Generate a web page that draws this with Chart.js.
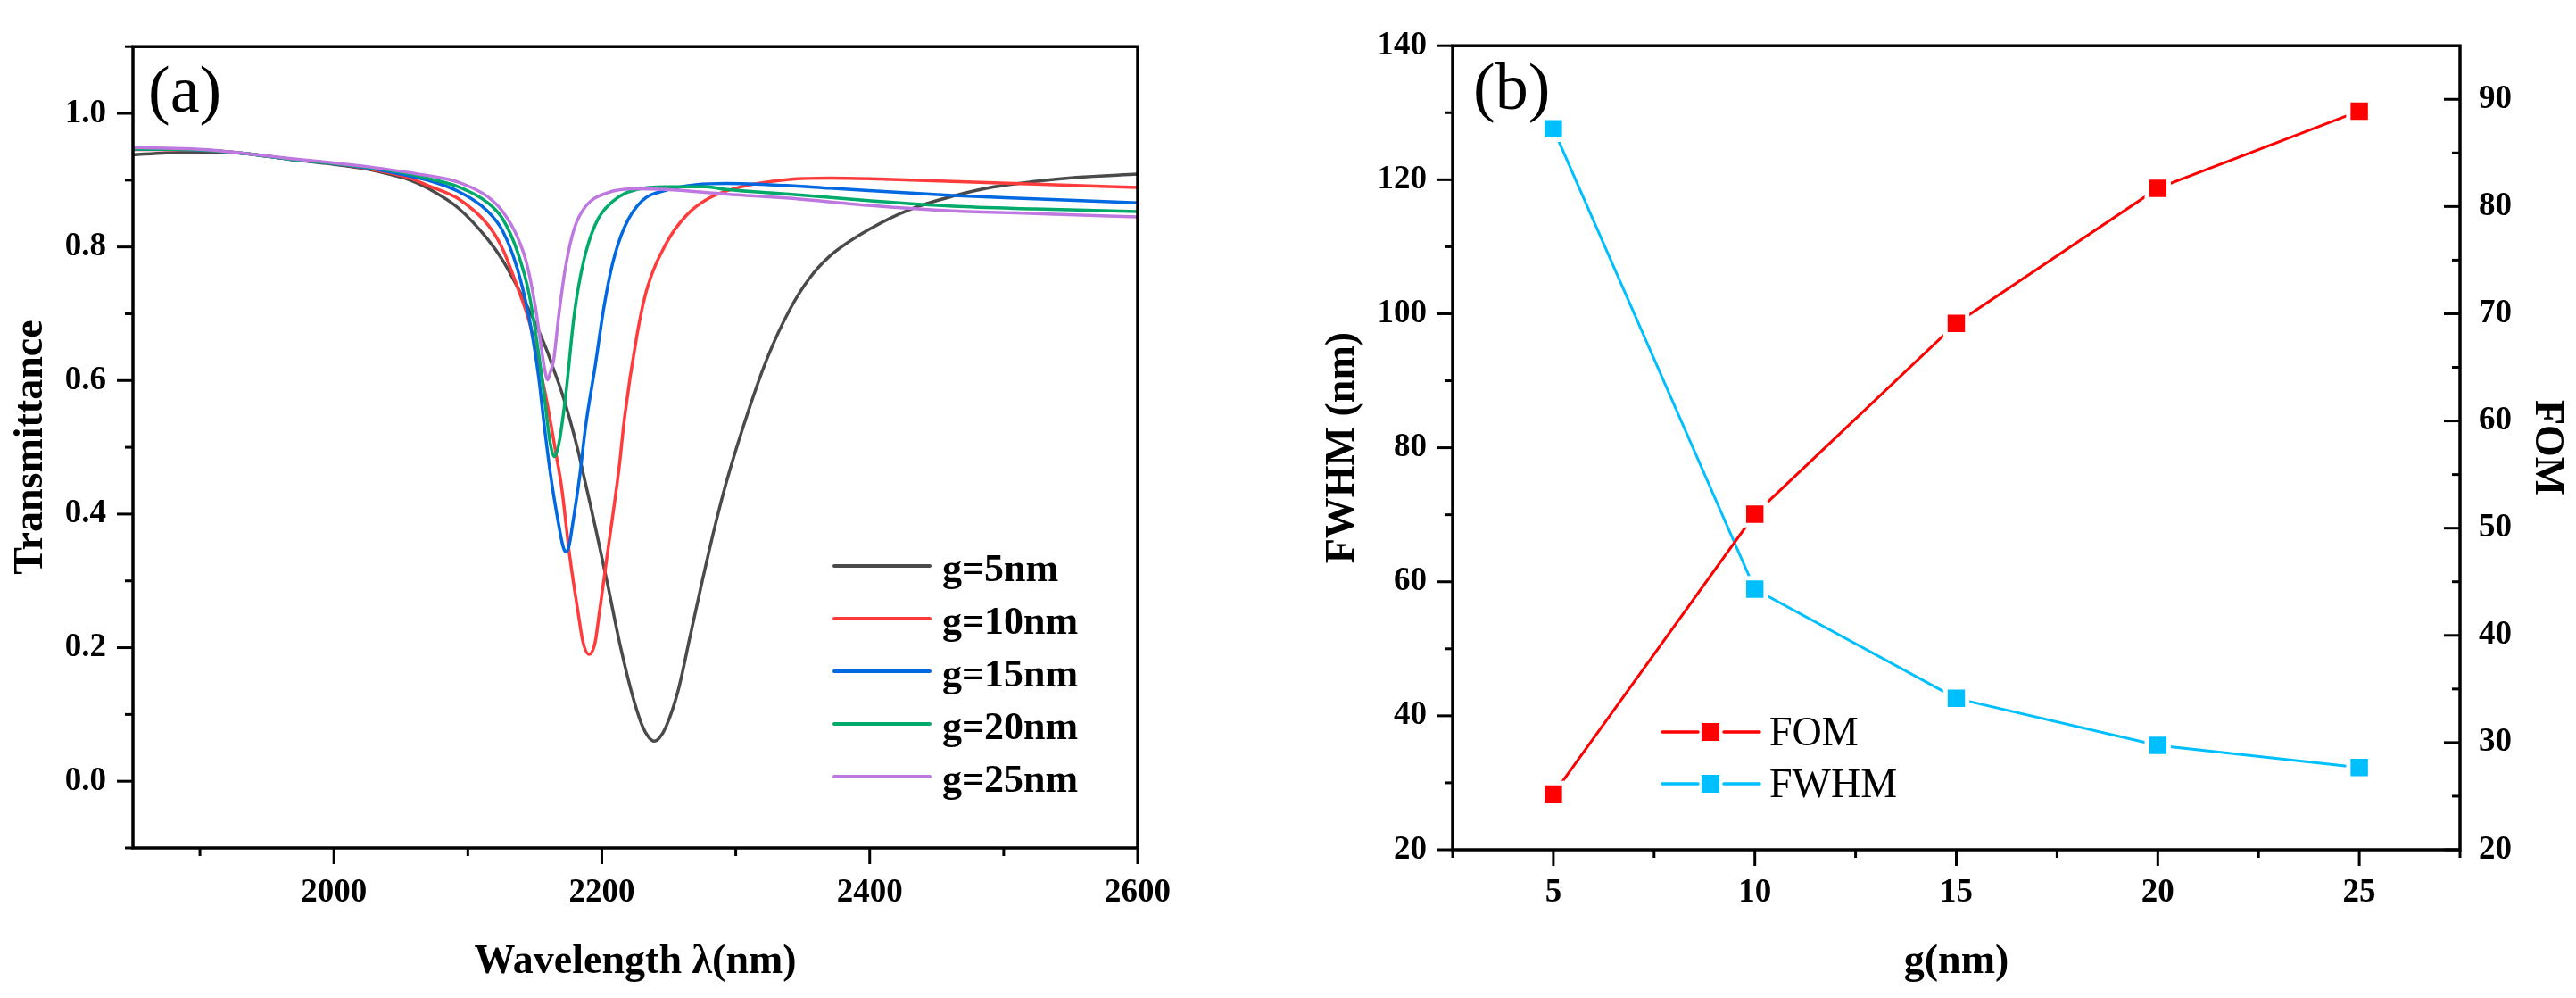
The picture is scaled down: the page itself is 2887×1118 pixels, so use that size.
<!DOCTYPE html>
<html>
<head>
<meta charset="utf-8">
<title>Transmittance and FOM / FWHM</title>
<script src="https://cdn.jsdelivr.net/npm/chart.js@4.4.1/dist/chart.umd.min.js"></script>
<style>
  html, body { margin: 0; padding: 0; background: #fff; }
  body { width: 2887px; height: 1118px; position: relative; overflow: hidden; }
  canvas { position: absolute; top: 0; }
  #chartA { left: 0; }
  #chartB { left: 1440px; }
</style>
</head>
<body>
<canvas id="chartA" width="1400" height="1118"></canvas>
<canvas id="chartB" width="1447" height="1118"></canvas>
<script>
// ---- panel (a): transmittance spectra ----
const wl5 = [1850, 1875, 1903, 1934, 1965, 1995, 2026, 2045, 2057, 2070, 2093, 2115, 2126, 2137, 2148, 2159, 2164, 2170, 2176, 2182, 2187, 2191, 2195, 2204, 2213, 2222, 2230, 2235, 2239, 2243, 2248, 2257, 2266, 2275, 2284, 2293, 2309, 2324, 2340, 2355, 2370, 2401, 2431, 2462, 2493, 2523, 2554, 2600];
const t5 = [0.938, 0.941, 0.942, 0.940, 0.932, 0.925, 0.916, 0.907, 0.900, 0.888, 0.858, 0.811, 0.780, 0.740, 0.696, 0.645, 0.617, 0.583, 0.543, 0.497, 0.453, 0.418, 0.382, 0.298, 0.210, 0.135, 0.084, 0.066, 0.060, 0.065, 0.082, 0.136, 0.218, 0.300, 0.378, 0.448, 0.552, 0.636, 0.705, 0.753, 0.786, 0.828, 0.857, 0.876, 0.890, 0.898, 0.904, 0.909];

const wl10 = [1850, 1903, 1934, 1965, 1995, 2026, 2057, 2070, 2093, 2115, 2126, 2137, 2146, 2153, 2159, 2166, 2170, 2176, 2182.5, 2186, 2190.5, 2195, 2198, 2204, 2213, 2217, 2226, 2233, 2248, 2263, 2280, 2304, 2340, 2370, 2401, 2462, 2523, 2600];
const t10 = [0.946, 0.945, 0.940, 0.932, 0.926, 0.917, 0.903, 0.892, 0.872, 0.833, 0.797, 0.740, 0.687, 0.625, 0.568, 0.488, 0.440, 0.338, 0.250, 0.208, 0.190, 0.208, 0.250, 0.338, 0.471, 0.545, 0.665, 0.732, 0.805, 0.847, 0.873, 0.890, 0.901, 0.903, 0.902, 0.898, 0.894, 0.889];

const wl15 = [1850, 1903, 1934, 1965, 1995, 2026, 2057, 2070, 2093, 2115, 2126, 2137, 2146, 2153, 2157, 2162, 2168, 2171, 2173, 2175.5, 2178, 2183.5, 2188, 2195, 2201.5, 2208, 2217, 2230, 2248, 2270, 2293, 2337, 2370, 2462, 2523, 2600];
const t15 = [0.947, 0.945, 0.940, 0.932, 0.926, 0.918, 0.906, 0.900, 0.883, 0.853, 0.824, 0.767, 0.691, 0.603, 0.533, 0.455, 0.382, 0.352, 0.343, 0.352, 0.382, 0.457, 0.533, 0.621, 0.709, 0.775, 0.830, 0.869, 0.885, 0.893, 0.895, 0.892, 0.888, 0.877, 0.872, 0.866];

const wl20 = [1850, 1903, 1934, 1965, 1995, 2026, 2057, 2070, 2093, 2115, 2126, 2137, 2146, 2153, 2157, 2161.5, 2164.5, 2168, 2173, 2179.5, 2186, 2195, 2208, 2226, 2248, 2278, 2293, 2340, 2401, 2462, 2523, 2600];
const t20 = [0.947, 0.945, 0.940, 0.932, 0.926, 0.919, 0.909, 0.903, 0.890, 0.866, 0.842, 0.793, 0.727, 0.638, 0.577, 0.506, 0.486, 0.506, 0.577, 0.700, 0.775, 0.833, 0.868, 0.886, 0.890, 0.890, 0.886, 0.879, 0.869, 0.861, 0.857, 0.853];

const wl25 = [1850, 1875, 1903, 1934, 1965, 1995, 2026, 2057, 2070, 2093, 2115, 2126, 2137, 2144, 2150.5, 2155, 2157.5, 2159.5, 2161.5, 2164, 2168, 2173, 2179.5, 2188, 2204, 2226, 2248, 2293, 2340, 2401, 2462, 2523, 2600];
const t25 = [0.949, 0.948, 0.946, 0.940, 0.933, 0.927, 0.920, 0.911, 0.907, 0.897, 0.875, 0.853, 0.815, 0.775, 0.709, 0.647, 0.615, 0.601, 0.612, 0.630, 0.700, 0.771, 0.828, 0.861, 0.881, 0.887, 0.886, 0.879, 0.873, 0.862, 0.854, 0.850, 0.845];

const labelsA = ['g=5nm', 'g=10nm', 'g=15nm', 'g=20nm', 'g=25nm'];
const xTicksA = [2000, 2200, 2400, 2600];
const xMinorA = [1900, 2100, 2300, 2500];
const yTicksA = [0, 0.2, 0.4, 0.6, 0.8, 1.0];
const yMinorA = [-0.1, 0.1, 0.3, 0.5, 0.7, 0.9, 1.1];

// ---- panel (b): FOM and FWHM against gap ----
const gaps = [5, 10, 15, 20, 25];
const fom = [25.2, 51.3, 69.1, 81.7, 88.9];
const fwhm = [127.6, 58.9, 42.6, 35.6, 32.3];
const xTicksB = [5, 10, 15, 20, 25];
const xMinorB = [2.5, 7.5, 12.5, 17.5, 22.5, 27.5];
const yTicksB = [20, 40, 60, 80, 100, 120, 140];
const yMinorB = [30, 50, 70, 90, 110, 130];
const y1TicksB = [20, 30, 40, 50, 60, 70, 80, 90];
const y1MinorB = [25, 35, 45, 55, 65, 75, 85];

const colorsA = ['#4a4a4a', '#ff3b3b', '#0068e0', '#00aa6a', '#be78e0'];
const serif = "'Liberation Serif', 'Times New Roman', serif";
const tickFont = { family: serif, size: 37, weight: 'bold' };
const titleFont = { family: serif, size: 46, weight: 'bold' };

Chart.defaults.font.family = serif;
Chart.defaults.color = '#000';

const toPoints = (xs, ys) => xs.map((x, i) => ({ x: x, y: ys[i] }));
const tickList = vals => s => { s.ticks = vals.map(v => ({ value: v })); };

// frame box plus major/minor tick marks
const axisDecor = {
  id: 'axisDecor',
  afterDraw(chart, args, o) {
    const { ctx, chartArea: a } = chart;
    ctx.save();
    ctx.strokeStyle = '#000';
    ctx.lineCap = 'butt';
    ctx.lineWidth = 3;
    o.ticks.forEach(t => {
      const scale = chart.scales[t.id];
      [[t.major, 18], [t.minor, 9]].forEach(([vals, len]) => {
        vals.forEach(v => {
          const p = scale.getPixelForValue(v);
          ctx.beginPath();
          if (scale.isHorizontal()) {
            ctx.moveTo(p, a.bottom);
            ctx.lineTo(p, a.bottom + len * t.dir);
          } else {
            const x0 = t.side === 'right' ? a.right : a.left;
            ctx.moveTo(x0, p);
            ctx.lineTo(x0 + len * t.dir, p);
          }
          ctx.stroke();
        });
      });
    });
    ctx.lineWidth = 3.5;
    ctx.strokeRect(a.left, a.top, a.right - a.left, a.bottom - a.top);
    // panel letter
    ctx.fillStyle = '#000';
    ctx.font = '74px ' + serif;
    ctx.textBaseline = 'alphabetic';
    ctx.fillText(o.tag, o.tagX, o.tagY);
    ctx.restore();
  }
};

// legend drawn inside the plot, taken from the datasets
const innerLegend = {
  id: 'innerLegend',
  afterDraw(chart, args, o) {
    const ctx = chart.ctx;
    ctx.save();
    ctx.font = o.font;
    ctx.textBaseline = 'alphabetic';
    chart.data.datasets.forEach((ds, i) => {
      const y = o.top + i * o.gap;
      ctx.strokeStyle = ds.borderColor;
      ctx.lineWidth = o.lineWidth;
      ctx.lineCap = 'round';
      ctx.beginPath();
      if (o.marker) {
        ctx.moveTo(o.x0, y); ctx.lineTo(o.mx - 14, y);
        ctx.moveTo(o.mx + 15, y); ctx.lineTo(o.x1, y);
        ctx.stroke();
        ctx.fillStyle = ds.pointBackgroundColor;
        ctx.fillRect(o.mx - 10, y - 10, 20, 20);
      } else {
        ctx.moveTo(o.x0, y); ctx.lineTo(o.x1, y);
        ctx.stroke();
      }
      ctx.fillStyle = '#000';
      ctx.fillText(ds.label, o.textX, y + o.shift);
    });
    ctx.restore();
  }
};

const seriesA = [[wl5, t5], [wl10, t10], [wl15, t15], [wl20, t20], [wl25, t25]];

new Chart(document.getElementById('chartA'), {
  type: 'line',
  data: {
    datasets: seriesA.map((s, i) => ({
      label: labelsA[i],
      data: toPoints(s[0], s[1]),
      borderColor: colorsA[i],
      backgroundColor: colorsA[i],
      borderWidth: 3.5,
      pointRadius: 0,
      fill: false,
      cubicInterpolationMode: 'monotone',
      order: 5 - i
    }))
  },
  options: {
    responsive: false,
    devicePixelRatio: 1,
    animation: false,
    events: [],
    layout: { autoPadding: false, padding: { top: 45, right: 125, left: 0, bottom: 0 } },
    plugins: {
      legend: { display: false },
      tooltip: { enabled: false },
      axisDecor: {
        tag: '(a)', tagX: 166, tagY: 125,
        ticks: [
          { id: 'x', major: xTicksA, minor: xMinorA, dir: 1 },
          { id: 'y', major: yTicksA, minor: yMinorA, dir: -1, side: 'left' }
        ]
      },
      innerLegend: {
        font: 'bold 44px ' + serif,
        top: 634, gap: 59, x0: 935, x1: 1042, textX: 1056, shift: 17, lineWidth: 4
      }
    },
    scales: {
      x: {
        type: 'linear', min: 1850, max: 2600,
        grid: { display: false, drawTicks: false },
        border: { display: false },
        afterBuildTicks: tickList(xTicksA),
        afterFit: s => { s.height = 168; },
        ticks: { font: tickFont, color: '#000', padding: 28, maxRotation: 0, autoSkip: false, callback: v => String(v) },
        title: { display: true, text: 'Wavelength λ(nm)', font: titleFont, color: '#000', padding: { top: 0, bottom: 12 } }
      },
      y: {
        type: 'linear', min: -0.1, max: 1.1,
        grid: { display: false, drawTicks: false },
        border: { display: false },
        afterBuildTicks: tickList(yTicksA),
        afterFit: s => { s.width = 149; },
        ticks: { font: tickFont, color: '#000', padding: 30, autoSkip: false, callback: v => v.toFixed(1) },
        title: { display: true, text: 'Transmittance', font: titleFont, color: '#000', padding: { top: 8, bottom: 0 } }
      }
    }
  },
  plugins: [axisDecor, innerLegend]
});

new Chart(document.getElementById('chartB'), {
  type: 'line',
  data: {
    datasets: [
      {
        label: 'FOM',
        data: toPoints(gaps, fom),
        yAxisID: 'y1',
        borderColor: '#ff0000',
        pointBackgroundColor: '#ff0000',
        pointBorderColor: '#ffffff',
        pointBorderWidth: 5,
        pointStyle: 'rect',
        pointRadius: 17.3,
        borderWidth: 3,
        tension: 0,
        fill: false
      },
      {
        label: 'FWHM',
        data: toPoints(gaps, fwhm),
        yAxisID: 'y',
        borderColor: '#00bfff',
        pointBackgroundColor: '#00bfff',
        pointBorderColor: '#ffffff',
        pointBorderWidth: 5,
        pointStyle: 'rect',
        pointRadius: 17.3,
        borderWidth: 3,
        tension: 0,
        fill: false
      }
    ]
  },
  options: {
    responsive: false,
    devicePixelRatio: 1,
    animation: false,
    events: [],
    layout: { autoPadding: false, padding: { top: 42, right: 0, left: 0, bottom: 0 } },
    plugins: {
      legend: { display: false },
      tooltip: { enabled: false },
      axisDecor: {
        tag: '(b)', tagX: 211, tagY: 122,
        ticks: [
          { id: 'x', major: xTicksB, minor: xMinorB, dir: 1 },
          { id: 'y', major: yTicksB, minor: yMinorB, dir: -1, side: 'left' },
          { id: 'y1', major: y1TicksB, minor: y1MinorB, dir: -1, side: 'right' }
        ]
      },
      innerLegend: {
        font: '46px ' + serif, marker: true,
        top: 820, gap: 58, x0: 423, x1: 532, mx: 477, textX: 543, shift: 15, lineWidth: 3.5
      }
    },
    scales: {
      x: {
        type: 'linear', min: 2.5, max: 27.5,
        grid: { display: false, drawTicks: false },
        border: { display: false },
        afterBuildTicks: tickList(xTicksB),
        afterFit: s => { s.height = 166; },
        ticks: { font: tickFont, color: '#000', padding: 26, maxRotation: 0, autoSkip: false, callback: v => String(v) },
        title: { display: true, text: 'g(nm)', font: titleFont, color: '#000', padding: { top: 0, bottom: 12 } }
      },
      y: {
        type: 'linear', position: 'left', min: 20, max: 140,
        grid: { display: false, drawTicks: false },
        border: { display: false },
        afterBuildTicks: tickList(yTicksB),
        afterFit: s => { s.width = 188; },
        ticks: { font: tickFont, color: '#000', padding: 29, autoSkip: false, callback: v => String(v) },
        title: { display: true, text: 'FWHM (nm)', font: titleFont, color: '#000', padding: { top: 38, bottom: 0 } }
      },
      y1: {
        type: 'linear', position: 'right', min: 20, max: 95,
        grid: { display: false, drawTicks: false },
        border: { display: false },
        afterBuildTicks: tickList(y1TicksB),
        afterFit: s => { s.width = 130; },
        ticks: { font: tickFont, color: '#000', padding: 21, autoSkip: false, callback: v => String(v) },
        title: { display: true, text: 'FOM', font: titleFont, color: '#000', padding: { top: 6, bottom: 0 } }
      }
    }
  },
  plugins: [axisDecor, innerLegend]
});
</script>
</body>
</html>
